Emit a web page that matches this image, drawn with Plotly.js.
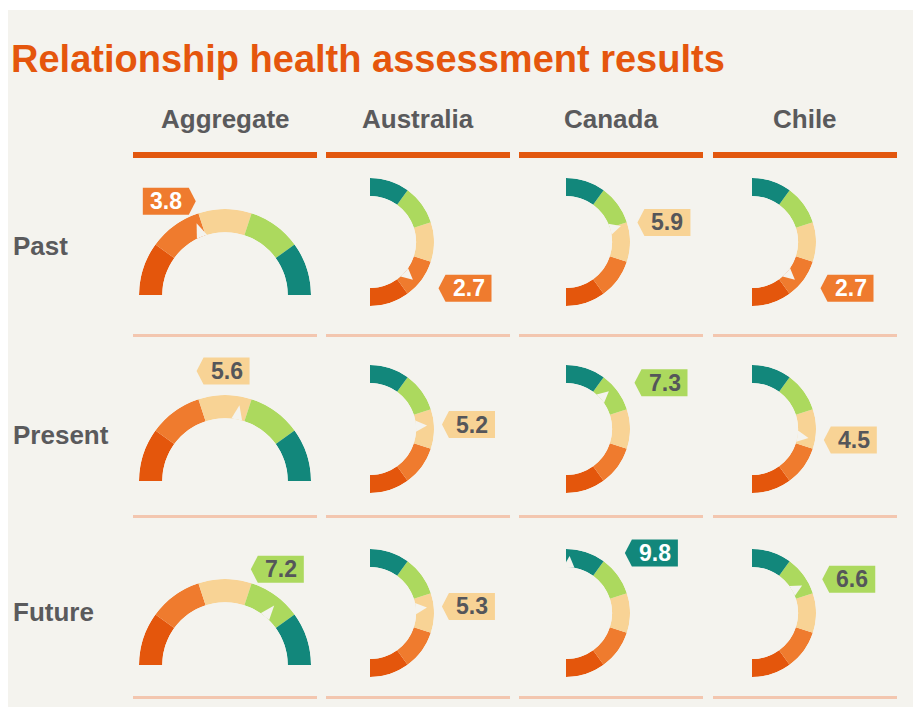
<!DOCTYPE html>
<html><head><meta charset="utf-8">
<script src="https://cdn.plot.ly/plotly-3.0.1.min.js"></script>
<style>html,body{margin:0;padding:0;background:#fff}#chart{width:917px;height:707px}</style>
</head><body><div id="chart"></div>
<script>
// ---- data ----
const chartTitle = 'Relationship health assessment results';
const regions = ['Aggregate', 'Australia', 'Canada', 'Chile'];
const periods = ['Past', 'Present', 'Future'];
const pastScores = [3.8, 2.7, 5.9, 2.7];
const presentScores = [5.6, 5.2, 7.3, 4.5];
const futureScores = [7.2, 5.3, 9.8, 6.6];
const bandStarts = [0, 2, 4, 6, 8];
const bandEnds = [2, 4, 6, 8, 10];
const scaleMax = 10;

// ---- style ----
const bandColors = ['#E4560C', '#EF7B2E', '#F8D395', '#ACD95E', '#12877B'];
const tagTextColors = ['#ffffff', '#ffffff', '#55565A', '#55565A', '#ffffff'];
const W = 917, H = 707;
const BG = '#F4F3EE';
const FONT = 'Liberation Sans, Arial, Helvetica, sans-serif';
const GREY = '#5A5A5C';
const colLeft = [133, 326, 519, 713], colW = 184;
const aggCx = 225, aggR = 86, aggBase = [295, 481, 665];
const sideCx = [370, 566, 752], sideCy = [242, 429, 613], sideR = 64;
const rowLabelY = [246, 435, 612];
const thinLineY = [335.5, 516.5, 697.5];
const TW = 46, TH = 27, TP = 7;

const scores = [pastScores, presentScores, futureScores];
const degPerUnit = 180 / scaleMax;
const px = x => x / W, py = y => 1 - y / H;

const data = [];
const shapes = [];
const annotations = [];
const layout = {
  width: W, height: H,
  margin: {l: 0, r: 0, t: 0, b: 0, pad: 0},
  paper_bgcolor: BG,
  showlegend: false,
  font: {family: FONT},
  title: {
    text: chartTitle, x: px(11), xanchor: 'left', xref: 'paper',
    y: py(59), yanchor: 'middle', yref: 'container',
    font: {family: FONT, size: 38, weight: 'bold', color: '#E5560D'}
  }
};

// white frame around the card
shapes.push({type: 'rect', xref: 'paper', yref: 'paper', x0: 0, x1: px(8), y0: 0, y1: 1, fillcolor: '#ffffff', line: {width: 0}});
shapes.push({type: 'rect', xref: 'paper', yref: 'paper', x0: 0, x1: 1, y0: py(10), y1: 1, fillcolor: '#ffffff', line: {width: 0}});
shapes.push({type: 'rect', xref: 'paper', yref: 'paper', x0: px(913), x1: 1, y0: 0, y1: 1, fillcolor: '#ffffff', line: {width: 0}});

// column headers and rules
regions.forEach((reg, ci) => {
  annotations.push({
    text: reg, xref: 'paper', yref: 'paper', x: px(colLeft[ci] + colW / 2), y: py(119),
    xanchor: 'center', yanchor: 'middle', showarrow: false,
    font: {family: FONT, size: 26, weight: 'bold', color: GREY}
  });
  shapes.push({type: 'rect', xref: 'paper', yref: 'paper', x0: px(colLeft[ci]), x1: px(colLeft[ci] + colW),
    y0: py(158), y1: py(152), fillcolor: '#E2570E', line: {width: 0}});
  thinLineY.forEach(yy => {
    shapes.push({type: 'rect', xref: 'paper', yref: 'paper', x0: px(colLeft[ci]), x1: px(colLeft[ci] + colW),
      y0: py(yy + 1.5), y1: py(yy - 1.5), fillcolor: '#F3C6AF', line: {width: 0}});
  });
});

function bandOf(v) {
  for (let i = 0; i < bandStarts.length; i++) if (v >= bandStarts[i] && v < bandEnds[i]) return i;
  return bandStarts.length - 1;
}

let k = 0;
periods.forEach((period, ri) => {
  annotations.push({
    text: period, xref: 'paper', yref: 'paper', x: px(11), y: py(rowLabelY[ri]),
    xanchor: 'left', yanchor: 'middle', showarrow: false,
    font: {family: FONT, size: 26, weight: 'bold', color: GREY}
  });
  regions.forEach((reg, ci) => {
    k++;
    const id = k === 1 ? 'polar' : 'polar' + k;
    const v = scores[ri][ci];
    const isAgg = ci === 0;
    let cx, cy, R, dom;
    if (isAgg) {
      cx = aggCx; cy = aggBase[ri]; R = aggR;
      dom = {x: [px(cx - R), px(cx + R)], y: [py(cy), py(cy - R)]};
    } else {
      cx = sideCx[ci - 1]; cy = sideCy[ri]; R = sideR;
      dom = {x: [px(cx), px(cx + R)], y: [py(cy + R), py(cy - R)]};
    }
    layout[id] = {
      domain: dom,
      sector: isAgg ? [0, 180] : [-90, 90],
      hole: isAgg ? 0.73 : 0.72,
      bgcolor: 'rgba(0,0,0,0)',
      bargap: 0,
      radialaxis: {visible: false, range: [0, 1]},
      angularaxis: {visible: false, rotation: isAgg ? 180 : -90,
        direction: isAgg ? 'clockwise' : 'counterclockwise'}
    };
    data.push({
      type: 'barpolar', subplot: id,
      r: bandStarts.map(() => 1),
      theta: bandStarts.map((s, i) => (s + bandEnds[i]) / 2 * degPerUnit),
      width: bandStarts.map((s, i) => (bandEnds[i] - s) * degPerUnit),
      marker: {color: bandColors, line: {width: 0}},
      hoverinfo: 'skip', showlegend: false
    });
    // notch at the score
    const t = v * degPerUnit, d = isAgg ? 5 : 7;
    data.push({
      type: 'scatterpolar', subplot: id, mode: 'lines',
      r: [0, 0.62, 0, 0], theta: [t - d, t, t + d, t - d],
      fill: 'toself', fillcolor: BG, line: {width: 0, color: BG},
      hoverinfo: 'skip', showlegend: false
    });
    // tag
    let bx, by, dir;
    if (isAgg) {
      const a = (180 - v * degPerUnit + 10) * Math.PI / 180;
      bx = cx + 113 * Math.cos(a); by = cy - 110 * Math.sin(a);
      dir = v < scaleMax / 2 ? -1 : 1;
    } else {
      const a = (v * degPerUnit - 90) * Math.PI / 180;
      const tipx = cx + 58 + 14 * Math.cos(a);
      by = Math.max(cy - 70 * Math.sin(a), cy - 60);
      dir = 1;
      bx = tipx + TP + TW / 2;
    }
    const b = bandOf(v);
    let pts;
    if (dir === 1) {
      pts = [[bx - TW / 2 - TP, by], [bx - TW / 2, by - TH / 2], [bx + TW / 2, by - TH / 2], [bx + TW / 2, by + TH / 2], [bx - TW / 2, by + TH / 2]];
    } else {
      pts = [[bx + TW / 2 + TP, by], [bx + TW / 2, by - TH / 2], [bx - TW / 2, by - TH / 2], [bx - TW / 2, by + TH / 2], [bx + TW / 2, by + TH / 2]];
    }
    const path = 'M' + pts.map(p => px(p[0]).toFixed(5) + ',' + py(p[1]).toFixed(5)).join(' L') + ' Z';
    shapes.push({type: 'path', xref: 'paper', yref: 'paper', path: path, fillcolor: bandColors[b], line: {width: 0}, layer: 'above'});
    annotations.push({
      text: v.toFixed(1), xref: 'paper', yref: 'paper', x: px(bx), y: py(by),
      xanchor: 'center', yanchor: 'middle', showarrow: false,
      font: {family: FONT, size: 23, weight: 'bold', color: tagTextColors[b]}
    });
  });
});

layout.shapes = shapes;
layout.annotations = annotations;
Plotly.newPlot('chart', data, layout, {staticPlot: true, displayModeBar: false});
</script>
</body></html>
